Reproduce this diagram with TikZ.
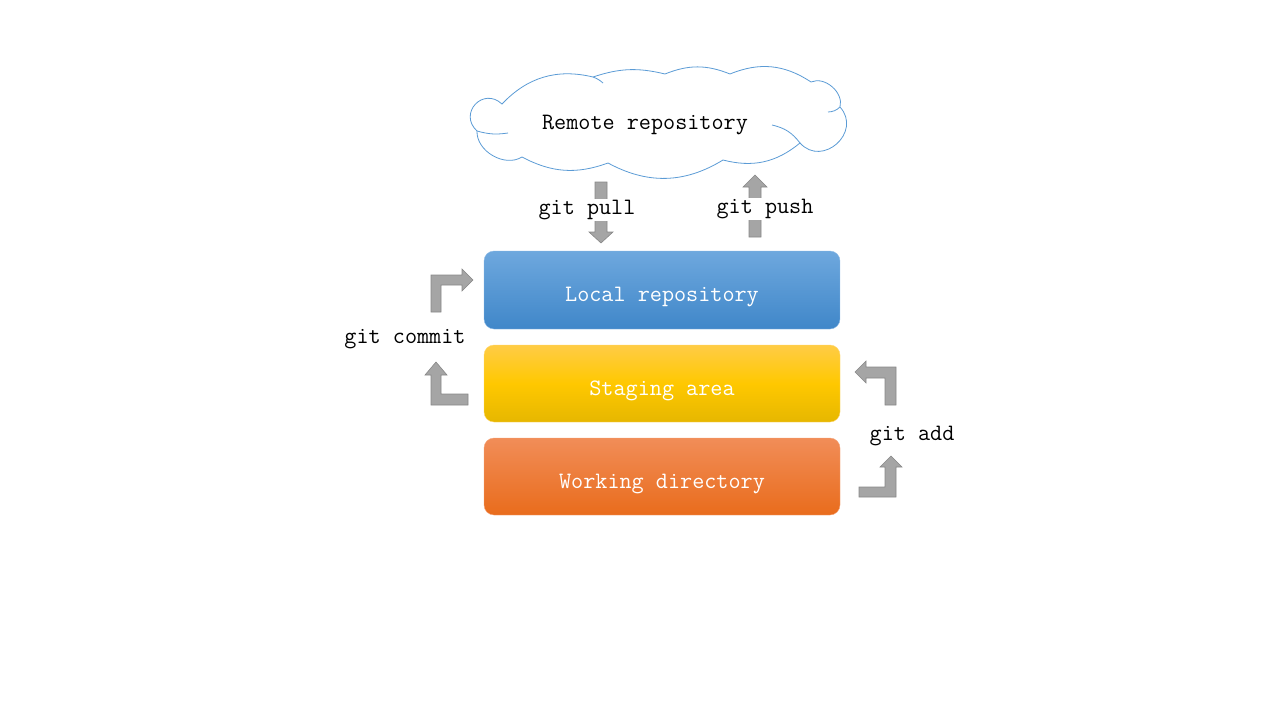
\documentclass[tikz,border=0pt]{standalone}
\usepackage{fontspec}
\usepackage{xcolor}
\usepackage{tikz}

\definecolor{cloudline}{RGB}{91,155,213}
\definecolor{loctop}{RGB}{110,168,222}
\definecolor{locbot}{RGB}{64,135,201}
\definecolor{stagetop}{RGB}{255,204,70}
\definecolor{stagemid}{RGB}{255,200,0}
\definecolor{stagebot}{RGB}{230,183,0}
\definecolor{worktop}{RGB}{241,141,88}
\definecolor{workbot}{RGB}{233,108,28}
\definecolor{arrowfill}{RGB}{165,165,165}
\definecolor{arrowline}{RGB}{135,135,135}

\tikzset{
  layer/.style = {rounded corners=10pt, minimum width=356pt, inner sep=0pt,
    text height=24pt, text depth=0.5pt,
    text=white, font=\ttfamily\fontsize{23.5}{24}\selectfont},
  cmd/.style = {fill=white, inner sep=1pt,
    font=\ttfamily\fontsize{23.5}{24}\selectfont},
  blockarrow/.style = {fill=arrowfill, draw=arrowline, line width=0.6pt}
}

\begin{document}
\begin{tikzpicture}[x=1pt,y=-1pt]
  \useasboundingbox (0,0) rectangle (1280,720);
  %%% remote
  \draw[cloudline, line width=0.8pt] (477,131) to[bend left=90, looseness=1.8] (502,104)
    to[bend left=30] (593,77) to[bend left=16] (665,74) to[bend left=22] (730,74)
    to[bend left=28] (811,82) to[bend left=65] (840,107)
    to[bend left=90, looseness=1.6] (800,143)
    to[bend left=27] (723,160) to[bend left=30] (608,163)
    to[bend left=24] (522,157) to[bend left=62] cycle;
  \draw[cloudline, line width=0.8pt] (593,77) to[bend left=10] (603,83);
  \draw[cloudline, line width=0.8pt] (508,133) to[bend left=12] (477,131);
  \draw[cloudline, line width=0.8pt] (840,107) to[bend left=20] (828,112);
  \draw[cloudline, line width=0.8pt] (772,125) to[bend left=20] (800,143);
  \node[font=\ttfamily\fontsize{23.5}{24}\selectfont] (remote) at (645,125) {Remote repository};
  %%% the three layers
  \node[layer, minimum height=78pt, top color=loctop, bottom color=locbot,
    draw=loctop!80!white] (local) at (662,290) {Local repository};
  \node[layer, minimum height=77pt, top color=stagetop, bottom color=stagebot,
    middle color=stagemid, draw=stagetop!80!white] (staging) at (662,383.5) {Staging area};
  \node[layer, minimum height=77pt, top color=worktop, bottom color=workbot,
    draw=worktop!80!white] (working) at (662,476.5) {Working directory};
  %%% pull and push
  \draw[blockarrow] (595,182) -- (607,182) -- (607,232) -- (613,232) -- (601,243)
    -- (589,232) -- (595,232) -- cycle;
  \draw[blockarrow] (749,237) -- (761,237) -- (761,187) -- (767,187) -- (755,175)
    -- (743,187) -- (749,187) -- cycle;
  \node[cmd] (pull) at (587,210) {git pull};
  \node[cmd] (push) at (765,209) {git push};
  %%% commit
  \draw[blockarrow] (431,312) -- (431,275) -- (462,275) -- (462,269) -- (473,280)
    -- (462,291) -- (462,285) -- (441,285) -- (441,312) -- cycle;
  \draw[blockarrow] (468,394) -- (441,394) -- (441,375) -- (447,375) -- (436,362)
    -- (425,375) -- (431,375) -- (431,405) -- (468,405) -- cycle;
  \node[cmd] (commit) at (405,339) {git commit};
  %%% add
  \draw[blockarrow] (896,405) -- (896,367) -- (866,367) -- (866,361) -- (855,372)
    -- (866,383) -- (866,378) -- (885,378) -- (885,405) -- cycle;
  \draw[blockarrow] (859,497) -- (896,497) -- (896,467) -- (902,467) -- (891,456)
    -- (880,467) -- (885,467) -- (885,487) -- (859,487) -- cycle;
  \node[cmd] (add) at (912,436) {git add};
\end{tikzpicture}
\end{document}
